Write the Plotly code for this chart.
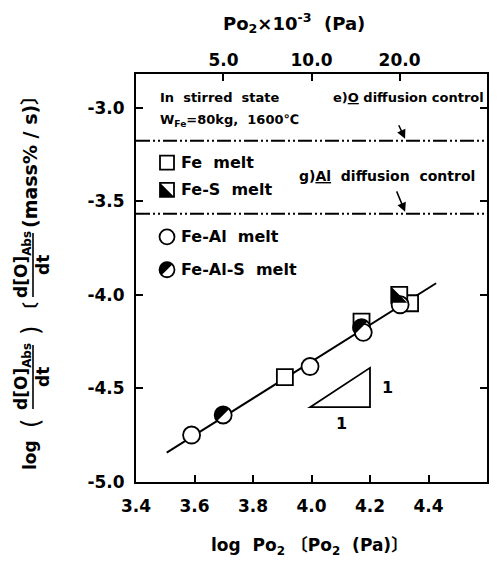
import math
import plotly.graph_objects as go

# ---------------- data ----------------
fe_x = [3.909, 4.171, 4.337]            # Fe melt (open square)
fe_y = [-4.440, -4.143, -4.045]
fes_x = [4.300]                          # Fe-S melt (half-black square)
fes_y = [-4.000]
feal_x = [3.590, 3.995, 4.177, 4.303]    # Fe-Al melt (open circle)
feal_y = [-4.749, -4.383, -4.200, -4.053]
feals_x = [3.698, 4.171]                 # Fe-Al-S melt (half-black circle)
feals_y = [-4.642, -4.175]
fit_x = [3.505, 4.426]                   # regression line (slope 1)
fit_y = [-4.843, -3.938]

o_limit = -3.176    # e) O diffusion control
al_limit = -3.567   # g) Al diffusion control

x_ticks = [3.4, 3.6, 3.8, 4.0, 4.2, 4.4, 4.6]
x_ticktext = ["3.4", "3.6", "3.8", "4.0", "4.2", "4.4", "4.6"]
y_ticks = [-5.0, -4.5, -4.0, -3.5, -3.0]
y_ticktext = ["-5.0", "-4.5", "-4.0", "-3.5", "-3.0"]
top_p = [5.0, 10.0, 20.0]                # Po2 x 10^-3 (Pa)
top_ticktext = ["5.0", "10.0", "20.0"]

slope_tri_x = [3.995, 4.200]
slope_tri_y = [-4.600, -4.390]

legend_x = 3.506
legend_y = [-3.294, -3.439, -3.690, -3.866]
legend_names = ["Fe  melt", "Fe-S  melt", "Fe-Al  melt", "Fe-Al-S  melt"]

# ---------------- layout geometry ----------------
W, H = 501, 562
L, R, T, B = 136, 14, 74, 80
PW, PH = W - L - R, H - T - B

def px2paper(px, py):
    return (px - L) / PW, (H - B - py) / PH

FONT = "DejaVu Sans, Noto Sans CJK JP"
SQ = 8.0      # half side of squares (px)
CR = 8.5      # circle radius (px)

def circle_path(r):
    k = 0.5523 * r
    return (f"M {r},0 C {r},{k} {k},{r} 0,{r} C {-k},{r} {-r},{k} {-r},0 "
            f"C {-r},{-k} {-k},{-r} 0,{-r} C {k},{-r} {r},{-k} {r},0 Z")

def half_circle_path(r):
    # upper-left half, split along the diagonal (y up)
    k = 0.5523 * r
    angs = [45, 135, 225]
    p = lambda a: (r * math.cos(math.radians(a)), r * math.sin(math.radians(a)))
    t = lambda a: (-math.sin(math.radians(a)), math.cos(math.radians(a)))
    x0, y0 = p(angs[0])
    s = f"M {x0:.2f},{y0:.2f} "
    for a0, a1 in zip(angs[:-1], angs[1:]):
        P0, P1 = p(a0), p(a1)
        T0, T1 = t(a0), t(a1)
        c1 = (P0[0] + k * T0[0], P0[1] + k * T0[1])
        c2 = (P1[0] - k * T1[0], P1[1] - k * T1[1])
        s += f"C {c1[0]:.2f},{c1[1]:.2f} {c2[0]:.2f},{c2[1]:.2f} {P1[0]:.2f},{P1[1]:.2f} "
    return s + "Z"

def square_path(s):
    return f"M {-s},{-s} H {s} V {s} H {-s} Z"

def half_square_path(s):
    return f"M {-s},{s} L {-s},{-s} L {s},{-s} Z"

def pix_shape(x, y, path, fill, lw=0):
    return dict(type="path", xref="x", yref="y", xsizemode="pixel", ysizemode="pixel",
                xanchor=x, yanchor=y, path=path, fillcolor=fill,
                line=dict(color="black", width=lw), layer="above")

fig = go.Figure()

fig.add_trace(go.Scatter(x=fit_x, y=fit_y, mode="lines",
                         line=dict(color="black", width=2), showlegend=False, hoverinfo="skip"))
sq_marker = dict(symbol="square", size=2 * SQ, color="white", line=dict(color="black", width=1.8))
ci_marker = dict(symbol="circle", size=2 * CR, color="white", line=dict(color="black", width=1.8))
fig.add_trace(go.Scatter(x=fe_x, y=fe_y, mode="markers", marker=sq_marker, name="Fe melt", showlegend=False))
fig.add_trace(go.Scatter(x=fes_x, y=fes_y, mode="markers", marker=sq_marker, name="Fe-S melt", showlegend=False))
fig.add_trace(go.Scatter(x=feals_x, y=feals_y, mode="markers", marker=ci_marker, name="Fe-Al-S melt", showlegend=False))
fig.add_trace(go.Scatter(x=feal_x, y=feal_y, mode="markers", marker=ci_marker, name="Fe-Al melt", showlegend=False))
# invisible trace carrying the top axis
top_x = [math.log10(p * 1e3) for p in top_p]
fig.add_trace(go.Scatter(x=top_x, y=[y_ticks[0]] * len(top_x), xaxis="x2", mode="markers",
                         marker=dict(opacity=0), showlegend=False, hoverinfo="skip"))

shapes = []
for x, y in zip(fes_x, fes_y):
    shapes.append(pix_shape(x, y, half_square_path(SQ), "black"))
for x, y in zip(feals_x, feals_y):
    shapes.append(pix_shape(x, y, half_circle_path(CR), "black"))

# legend icons
icon_kinds = ["sq", "hsq", "ci", "hci"]
for kind, ly in zip(icon_kinds, legend_y):
    if kind in ("sq", "hsq"):
        shapes.append(pix_shape(legend_x, ly, square_path(SQ - 1), "white", 1.8))
        if kind == "hsq":
            shapes.append(pix_shape(legend_x, ly, half_square_path(SQ - 1), "black"))
    else:
        shapes.append(pix_shape(legend_x, ly, circle_path(CR - 1), "white", 1.8))
        if kind == "hci":
            shapes.append(pix_shape(legend_x, ly, half_circle_path(CR - 1), "black"))

# diffusion-control limits
dashdot = "14px,3px,2px,3px,2px,3px"
for yl in (o_limit, al_limit):
    shapes.append(dict(type="line", xref="paper", yref="y", x0=0, x1=1, y0=yl, y1=yl,
                       line=dict(color="black", width=2, dash=dashdot)))

# slope triangle
shapes.append(dict(type="path", xref="x", yref="y",
                   path=f"M {slope_tri_x[0]},{slope_tri_y[0]} L {slope_tri_x[1]},{slope_tri_y[1]} "
                        f"L {slope_tri_x[1]},{slope_tri_y[0]} Z",
                   line=dict(color="black", width=1.8)))

annotations = []
def txt(x, y, text, size=14, xanchor="left", xref="x", yref="y", angle=0, weight="bold", yanchor="middle"):
    annotations.append(dict(x=x, y=y, xref=xref, yref=yref, text=text, showarrow=False,
                            xanchor=xanchor, yanchor=yanchor, textangle=angle,
                            font=dict(family=FONT, size=size, color="black", weight=weight)))

txt(3.475, -2.947, "In  stirred  state", 13)
txt(3.475, -3.070, "W<sub>Fe</sub>=80kg,  1600℃", 13)
txt(4.595, -2.947, "e)<span style='text-decoration:underline'>O</span> diffusion control", 13, xanchor="right")
txt(3.950, -3.364, "g)<span style='text-decoration:underline'>Al</span>  diffusion  control", 14)
for name, ly in zip(legend_names, legend_y):
    txt(legend_x + 0.041, ly, name, 16)
txt(slope_tri_x[1] + 0.034, (slope_tri_y[0] + slope_tri_y[1]) / 2 - 0.002, "1", 16)
txt((slope_tri_x[0] + slope_tri_x[1]) / 2 + 0.006, slope_tri_y[0] - 0.085, "1", 16, xanchor="center")

# arrows
for (ax_, ay_, hx, hy) in [(4.296, -3.086, 4.320, -3.166), (4.289, -3.439, 4.320, -3.556)]:
    annotations.append(dict(x=hx, y=hy, ax=ax_, ay=ay_, xref="x", yref="y", axref="x", ayref="y",
                            showarrow=True, arrowhead=2, arrowsize=1.2, arrowwidth=1.5,
                            arrowcolor="black", text=""))

# axis titles
bx, by = px2paper(309, 546)
txt(bx, by, "log  Po<sub>2</sub> 〔Po<sub>2</sub>  (Pa)〕", 17, xanchor="center", xref="paper", yref="paper")
tx, ty = px2paper(294, 23)
txt(tx, ty, "Po<sub>2</sub>×10<sup>-3</sup>  (Pa)", 18, xanchor="center", xref="paper", yref="paper")

# y title pieces (rotated)
def ytxt(px, py, text, size=17, yanchor="middle", weight="bold"):
    x, y = px2paper(px, py)
    txt(x, y, text, size, xanchor="center", xref="paper", yref="paper", angle=-90, yanchor=yanchor, weight=weight)

ytxt(30, 455, "log")
ytxt(31, 424, "(", 24, weight="normal")
ytxt(22, 377, "d[O]<sub>Abs</sub>")
ytxt(43, 377, "dt")
ytxt(31, 331, ")", 24, weight="normal")
ytxt(31, 311, "〔", 17)
ytxt(22, 265, "d[O]<sub>Abs</sub>")
ytxt(43, 265, "dt")
ytxt(30, 230, "(mass% / s)〕", 19, yanchor="bottom")
for (py0, py1) in [(345, 409), (233, 297)]:
    x0, y0 = px2paper(33, py0)
    x1, y1 = px2paper(33, py1)
    shapes.append(dict(type="line", xref="paper", yref="paper", x0=x0, x1=x1, y0=y0, y1=y1,
                       line=dict(color="black", width=1.6)))

axis_font = dict(family=FONT, size=17, color="black", weight="bold")
fig.update_layout(
    width=W, height=H, margin=dict(l=L, r=R, t=T, b=B),
    plot_bgcolor="white", paper_bgcolor="white",
    shapes=shapes, annotations=annotations,
    xaxis=dict(range=[3.4, 4.6], tickvals=x_ticks, ticktext=x_ticktext, ticks="inside", ticklen=7,
               tickwidth=1.5, tickcolor="black", showline=True, linewidth=2, linecolor="black",
               mirror=True, showgrid=False, zeroline=False, tickfont=axis_font, ticklabelstandoff=8),
    xaxis2=dict(range=[3.4, 4.6], overlaying="x", side="top", tickvals=top_x, ticktext=top_ticktext,
                ticks="inside", ticklen=7, tickwidth=1.5, tickcolor="black", showline=False,
                showgrid=False, zeroline=False, tickfont=axis_font, ticklabelstandoff=4),
    yaxis=dict(range=[-5.0, -2.82], tickvals=y_ticks, ticktext=y_ticktext, ticks="inside", ticklen=7,
               tickwidth=1.5, tickcolor="black", showline=True, linewidth=2, linecolor="black",
               mirror="ticks", showgrid=False, zeroline=False, tickfont=axis_font, ticklabelstandoff=6),
    showlegend=False,
)

fig.write_html("out.html")
